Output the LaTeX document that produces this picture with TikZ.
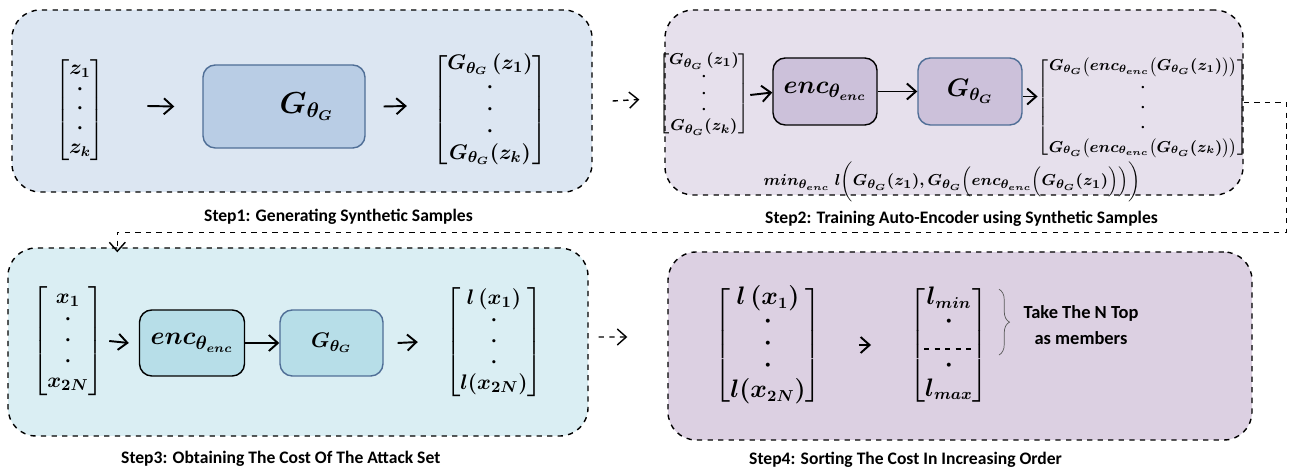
\documentclass[tikz,border=0pt]{standalone}
\usepackage{amsmath,amssymb}
\usepackage{fontspec}
\setsansfont{Carlito}
\usepackage{tikz}
\usetikzlibrary{arrows.meta,decorations.pathreplacing}

\definecolor{panelA}{HTML}{DCE6F2}
\definecolor{panelB}{HTML}{E6E0EC}
\definecolor{panelC}{HTML}{DAEEF3}
\definecolor{panelD}{HTML}{DCD0E2}
\definecolor{boxA}{HTML}{B9CDE5}
\definecolor{boxB}{HTML}{CCC1DA}
\definecolor{boxC}{HTML}{B7DEE8}
\definecolor{edgeA}{HTML}{4F6E96}

\begin{document}
\begin{tikzpicture}[>={Straight Barb[length=1.8mm, width=3.2mm]}, panel/.style={draw, dashed, thick, rounded corners=16pt}, blk/.style={draw, thick, rounded corners=7pt, minimum width=2.08cm, minimum height=1.34cm}, mvec/.style={inner sep=0pt, font=\fontsize{12}{14}\selectfont\boldmath}, steptxt/.style={anchor=west, font=\sffamily\bfseries\fontsize{10}{12}\selectfont}, arr/.style={->, line width=1.1pt}, link/.style={->, dashed, thick}]
	\useasboundingbox (0,0) rectangle (25.8,9.44);
	\node[panel, fill=panelA, minimum width=11.6cm, minimum height=3.64cm] (p1) at (6.04,7.42) {};
	\node[panel, fill=panelB, minimum width=11.56cm, minimum height=3.7cm] (p2) at (19.08,7.39) {};
	\node[panel, fill=panelC, minimum width=11.6cm, minimum height=3.76cm] (p3) at (5.96,2.6) {};
	\node[panel, fill=panelD, minimum width=11.68cm, minimum height=3.76cm] (p4) at (19.2,2.52) {};
	\node[steptxt] (s1) at (3.96,5.1) {Step1: Generating Synthetic Samples};
	\node[steptxt] (s2) at (15.18,5.06) {Step2: Training Auto-Encoder using Synthetic Samples};
	\node[steptxt] (s3) at (2.3,0.26) {Step3: Obtaining The Cost Of The Attack Set};
	\node[steptxt] (s4) at (14.86,0.24) {Step4: Sorting The Cost In Increasing Order};
	% step 1
	\node[mvec] (vz) at (1.6,7.24) {$\renewcommand{\arraystretch}{0.8}\begin{bmatrix} z_1\\ \cdot\\ \cdot\\ \cdot\\ z_k \end{bmatrix}$};
	\node[blk, fill=boxA, draw=edgeA, minimum width=3.24cm, minimum height=1.66cm, font=\fontsize{17}{19}\selectfont\boldmath] (g1) at (5.68,7.31) {\hspace*{0.9cm}$G_{\theta_G}$};
	\node[mvec, font=\fontsize{13}{15}\selectfont\boldmath] (vg) at (9.8,7.24) {$\renewcommand{\arraystretch}{0.85}\begin{bmatrix} G_{\theta_G}\,(z_1)\\ \cdot\\ \cdot\\ \cdot\\ G_{\theta_G}(z_k) \end{bmatrix}$};
	\draw[arr] ([xshift=0.84cm, yshift=0.08cm]vz.east) -- ([xshift=-0.56cm]g1.west);
	\draw[arr] ([xshift=0.36cm]g1.east) -- ([xshift=-0.5cm, yshift=0.08cm]vg.west);
	\draw[link] ([xshift=0.4cm]p1.east) -- ([xshift=-0.5cm, yshift=0.06cm]p2.west);
	% step 2
	\node[mvec, font=\fontsize{9.5}{11}\selectfont\boldmath] (vg2) at (14.08,7.56) {$\renewcommand{\arraystretch}{0.85}\begin{bmatrix} G_{\theta_G}\,(z_1)\\ \cdot\\ \cdot\\ \cdot\\ G_{\theta_G}(z_k) \end{bmatrix}$};
	\node[blk, fill=boxB, font=\fontsize{15}{17}\selectfont\boldmath] (enc2) at (16.5,7.61) {$enc_{\theta_{enc}}$};
	\node[blk, fill=boxB, draw=edgeA, font=\fontsize{14}{16}\selectfont\boldmath] (g2) at (19.4,7.61) {$G_{\theta_G}$};
	\node[mvec, font=\fontsize{9}{11}\selectfont\boldmath] (vr2) at (22.86,7.29) {$\renewcommand{\arraystretch}{1.05}\begin{bmatrix} G_{\theta_G}\bigl(enc_{\theta_{enc}}\bigl(G_{\theta_G}(z_1)\bigr)\bigr)\\ \cdot\\ \cdot\\ \cdot\\ G_{\theta_G}\bigl(enc_{\theta_{enc}}\bigl(G_{\theta_G}(z_k)\bigr)\bigr) \end{bmatrix}$};
	\node[mvec, font=\fontsize{9.5}{11}\selectfont\boldmath] (loss) at (19.04,5.8) {$min_{\theta_{enc}}\; l\biggl(G_{\theta_G}(z_1), G_{\theta_G}\Bigl(enc_{\theta_{enc}}\Bigl(G_{\theta_G}(z_1)\Bigr)\Bigr)\biggr)$};
	\draw[arr] ([yshift=-0.02cm]vg2.east) -- ([yshift=-0.02cm]enc2.west);
	\draw[arr] (enc2) -- (g2);
	\draw[arr] ([yshift=-0.1cm]g2.east) -- ([yshift=-0.1cm]vr2.west |- g2.east);
	\draw[link] (p2.east) -- ++(0.85,0) |- ([xshift=2.2cm, yshift=0.3cm]p3.north west) -- ([xshift=2.2cm, yshift=-0.1cm]p3.north west);
	% step 3
	\node[mvec, font=\fontsize{13}{15}\selectfont\boldmath] (vx) at (1.36,2.62) {$\renewcommand{\arraystretch}{0.8}\begin{bmatrix} x_1\\ \cdot\\ \cdot\\ \cdot\\ x_{2N} \end{bmatrix}$};
	\node[blk, fill=boxC, minimum width=2.1cm, minimum height=1.32cm, font=\fontsize{15}{17}\selectfont\boldmath] (enc3) at (3.84,2.58) {$enc_{\theta_{enc}}$};
	\node[blk, fill=boxC, draw=edgeA, minimum width=2.06cm, minimum height=1.32cm, font=\fontsize{13}{15}\selectfont\boldmath] (g3) at (6.63,2.58) {$G_{\theta_G}$};
	\node[mvec, font=\fontsize{13}{15}\selectfont\boldmath] (vl3) at (9.88,2.6) {$\renewcommand{\arraystretch}{0.8}\begin{bmatrix} l\,(x_1)\\ \cdot\\ \cdot\\ \cdot\\ l(x_{2N}) \end{bmatrix}$};
	\draw[arr] ([xshift=0.1cm]vx.east) -- ([xshift=-0.2cm]enc3.west);
	\draw[arr] (enc3) -- (g3);
	\draw[arr] ([xshift=0.28cm]g3.east) -- ([xshift=-0.54cm]vl3.west);
	\draw[link] ([xshift=0.2cm, yshift=0.1cm]p3.east) -- ([xshift=-0.8cm, yshift=0.18cm]p4.west);
	% step 4
	\node[mvec, font=\fontsize{13.5}{15}\selectfont\boldmath] (vl4) at (15.36,2.54) {$\renewcommand{\arraystretch}{0.85}\begin{bmatrix} l\,(x_1)\\ \cdot\\ \cdot\\ \cdot\\ l(x_{2N}) \end{bmatrix}$};
	\node[mvec, font=\fontsize{13.5}{15}\selectfont\boldmath] (vs) at (18.98,2.54) {$\renewcommand{\arraystretch}{0.85}\begin{bmatrix} l_{min}\\ \cdot\\ \phantom{\cdot}\\ \cdot\\ l_{max} \end{bmatrix}$};
	\draw[arr] ([xshift=0.74cm]vl4.east) -- ([xshift=-0.76cm]vs.west);
	\coordinate (cut) at ([yshift=-0.08cm]vs.center);
	\draw[dashed, thick] ([xshift=-0.5cm]cut) -- ([xshift=0.5cm]cut);
	\draw[decorate, decoration={brace, amplitude=6pt}, gray!70!black] ([xshift=0.2cm, yshift=-0.05cm]vs.north east) -- ([xshift=0.2cm, yshift=-0.12cm]vs.east |- cut) coordinate (bb);
	\node[font=\sffamily\bfseries\fontsize{10.5}{14.5}\selectfont, align=center] (take) at (21.62,2.94) {Take The N Top\\ as members};
\end{tikzpicture}
\end{document}
